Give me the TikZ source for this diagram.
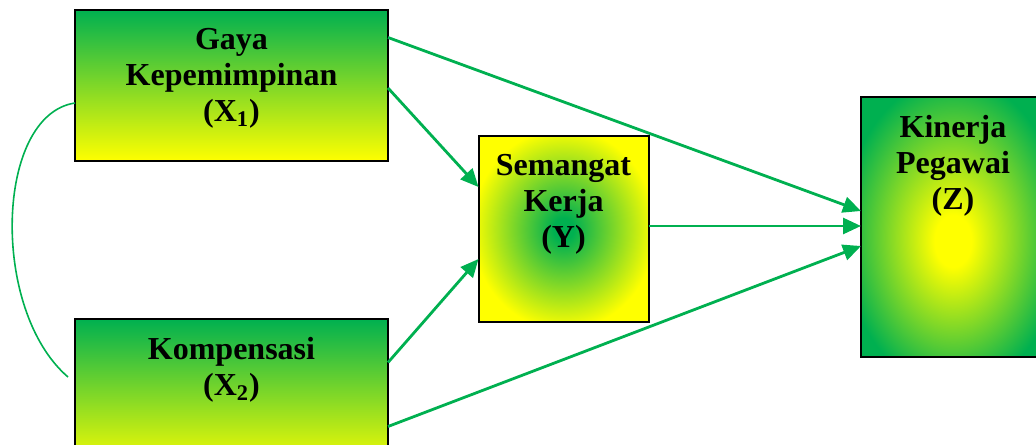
\documentclass[tikz,border=0pt]{standalone}
\usepackage{fontspec}
\setmainfont{Liberation Serif}
\usepackage{tikz}
\usetikzlibrary{positioning,shapes,arrows.meta,shadings}

\definecolor{grn}{RGB}{0,176,80}
\definecolor{yel}{RGB}{255,255,0}
\pgfdeclareradialshading{glowY}{\pgfpoint{0bp}{0bp}}{color(0bp)=(grn); color(3bp)=(grn); color(27bp)=(yel); color(50bp)=(yel)}
\pgfdeclareradialshading{glowZ}{\pgfpoint{0bp}{-3bp}}{color(0bp)=(yel); color(5bp)=(yel); color(30bp)=(grn); color(50bp)=(grn)}

\begin{document}
\begin{tikzpicture}[x=0.5pt, y=-0.5pt,
    box/.style={rectangle, draw=black, line width=1pt, inner sep=0pt, outer sep=0pt},
    vbox/.style={box, top color=grn, bottom color=yel, minimum width=156.5pt, minimum height=75.5pt},
    lbl/.style={inner sep=0pt, align=center, font={\fontsize{16}{18}\selectfont\bfseries}},
    arrow/.style={-{Triangle[length=9pt,width=8pt]}, color=grn, line width=1.4pt},
    link/.style={color=grn, line width=0.8pt}
]
    \clip (0,0) rectangle (1036,444);
    % 상자들
    \node [vbox] (x1) at (231.5,85.5) {};
    \node [vbox] (x2) at (231.5,394.5) {};
    \node [box, shading=glowY, minimum width=85pt, minimum height=93pt] (y) at (563.5,229) {};
    \node [box, shading=glowZ, minimum width=92pt, minimum height=130pt] (z) at (953,227) {};

    % 글자
    \node [lbl, below=9pt of x1.north] (x1txt) {Gaya\\Kepemimpinan\\(X\textsubscript{1})};
    \node [lbl, below=9pt of x2.north] (x2txt) {Kompensasi\\(X\textsubscript{2})};
    \node [lbl, below=9pt of y.north] (ytxt) {Semangat\\Kerja\\(Y)};
    \node [lbl, below=9pt of z.north] (ztxt) {Kinerja\\Pegawai\\(Z)};

    % 연결선
    \draw [arrow] ([yshift=24pt]x1.east) -- ([yshift=8pt]z.west);
    \draw [arrow] ([yshift=-1.25pt]x1.east) -- ([yshift=21pt]y.west);
    \draw [arrow] ([yshift=16pt]x2.east) -- ([yshift=-15pt]y.west);
    \draw [arrow] ([yshift=-16pt]x2.east) -- ([yshift=-9.5pt]z.west);
    \draw [arrow] ([yshift=1.5pt]y.east) -- ([yshift=1.5pt]y.east -| z.west);
    \draw [link] ([yshift=-8.75pt]x1.west) .. controls (-5,115) and (-10,310) .. ([xshift=-3.5pt,yshift=8.75pt]x2.west);
\end{tikzpicture}
\end{document}
